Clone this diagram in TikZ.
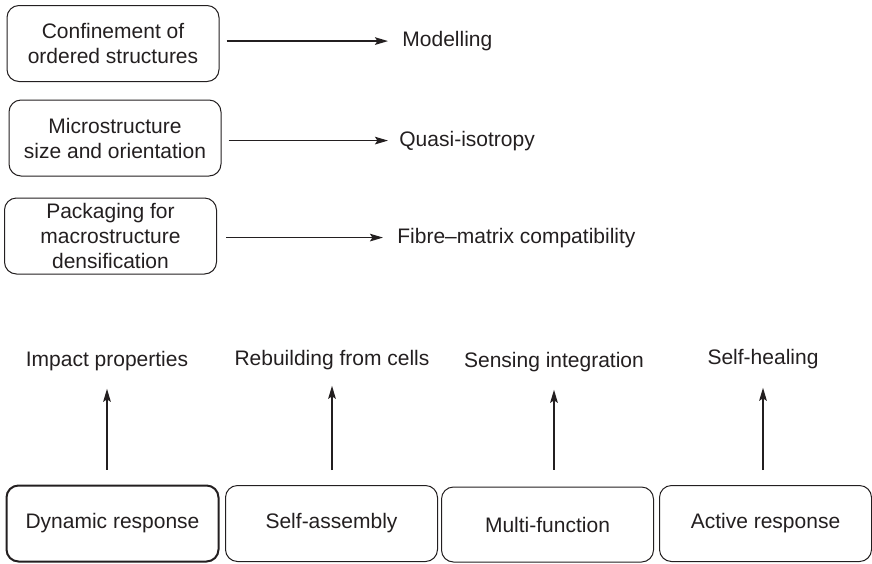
\documentclass[tikz,border=0pt]{standalone}
\usepackage{fontspec}
\setmainfont{Liberation Sans}
\usepackage{xcolor}
\usepackage{tikz}
\usetikzlibrary{positioning,calc,arrows.meta}

\begin{document}
\begin{tikzpicture}[x=0.5pt,y=-0.5pt]
					\definecolor{inkgray}{RGB}{35,31,32}
					\tikzset{
						boxn/.style={
							draw=inkgray, rounded corners=6pt, line width=0.5pt,
							minimum width=106pt, minimum height=38pt,
							inner sep=0pt, align=center, text=inkgray,
							font=\fontsize{10.5}{12.5}\selectfont
						},
						labn/.style={
							inner sep=0pt, text=inkgray,
							font=\fontsize{10.5}{12.5}\selectfont
						},
						parr/.style={
							-{Stealth[length=6.5pt,width=3.8pt,inset=1.2pt]},
							draw=inkgray, line width=0.8pt
						}
					}
					\useasboundingbox (0,0) rectangle (872,563);
					
					% ======= Ba hộp bên trái và nhãn =======
					\node[boxn] (c1) at (113,43.5) {Confinement of\\ordered structures};
					\node[boxn] (c2) at (115,138)  {Microstructure\\size and orientation};
					\node[boxn] (c3) at (110.5,236) {Packaging for\\macrostructure\\densification};
					
					\node[labn, anchor=base west] (mod) at (402,46.5) {Modelling};
					\node[labn, anchor=base west] (qua) at (399,146)  {Quasi-isotropy};
					\node[labn, anchor=base west] (fib) at (397,243)  {Fibre--matrix compatibility};
					
					\draw[parr, shorten <=3.5pt, shorten >=7pt] (c1.east |- mod.west) -- (mod.west);
					\draw[parr, shorten <=3.5pt, shorten >=5.5pt] (c2.east |- qua.west) -- (qua.west);
					\draw[parr, shorten <=4.5pt, shorten >=7pt] (c3.east |- fib.west) -- (fib.west);
					
					% ======= Bốn hộp dưới và nhãn =======
					\node[boxn, line width=1pt] (d1) at (112.5,523.5) {Dynamic response};
					\node[boxn] (d2) at (331.5,523.5) {Self-assembly};
					\node[boxn, minimum height=37.5pt] (d3) at (547.5,524.5) {Multi-function};
					\node[boxn] (d4) at (765.5,523.5) {Active response};
					
					\node[labn, anchor=base] (imp) at (107,366) {Impact properties};
					\node[labn, anchor=base] (reb) at (332,365) {Rebuilding from cells};
					\node[labn, anchor=base] (sen) at (554,367) {Sensing integration};
					\node[labn, anchor=base] (shl) at (763,364) {Self-healing};
					
					\draw[parr, shorten <=7.5pt, shorten >=9pt] (imp.south |- d1.north) -- (imp.south);
					\draw[parr, shorten <=7.5pt, shorten >=8pt] (reb.south |- d2.north) -- (reb.south);
					\draw[parr, shorten <=8.5pt, shorten >=9pt] (sen.south |- d3.north) -- (sen.south);
					\draw[parr, shorten <=7.5pt, shorten >=9.5pt] (shl.south |- d4.north) -- (shl.south);
					
				\end{tikzpicture}
\end{document}
